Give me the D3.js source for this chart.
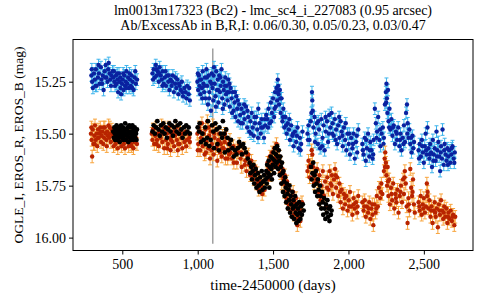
<!DOCTYPE html>
<html>
<head>
<meta charset="utf-8">
<script src="https://cdn.jsdelivr.net/npm/d3@7"></script>
<style>
  html, body { margin: 0; padding: 0; background: #fff; }
  svg { display: block; }
  svg text { font-family: "Liberation Serif", "DejaVu Serif", serif; }
</style>
</head>
<body>
<svg id="chart" width="480" height="300"></svg>
<script>
const titleLines = [
  "lm0013m17323 (Bc2) - lmc_sc4_i_227083 (0.95 arcsec)",
  "Ab/ExcessAb in B,R,I: 0.06/0.30, 0.05/0.23, 0.03/0.47"
];
const xLabel = "time-2450000 (days)";
const yLabel = "OGLE_I, EROS_R, EROS_B (mag)";
const xTicks = [500, 1000, 1500, 2000, 2500];
const yTicks = [15.25, 15.5, 15.75, 16.0];
const markerTime = 1100;
const markerMags = [15.09, 16.03];
const errB = 0.028;
const errR = 0.03;

// EROS_B : [time, mag]
const erosB = [
[295,15.22],[300,15.25],[305,15.28],[312,15.21],[318,15.24],[325,15.19],[330,15.27],[338,15.23],[345,15.21],[350,15.26],[358,15.18],[362,15.24],[370,15.22],[376,15.29],[383,15.2],[390,15.17],[395,15.23],[402,15.25],[410,15.16],[415,15.21],[420,15.24],[428,15.22],[435,15.2],[440,15.23],[447,15.25],[452,15.27],[458,15.22],[463,15.26],[468,15.24],[472,15.3],[478,15.21],[483,15.25],[488,15.28],[492,15.31],[498,15.26],[503,15.24],[508,15.29],[513,15.22],[518,15.27],[523,15.25],[528,15.2],[533,15.26],[538,15.23],[545,15.28],[550,15.24],[556,15.27],[562,15.22],[568,15.25],[575,15.29],[582,15.23],[590,15.26],[598,15.24],
[298,15.19],[322,15.27],[342,15.17],[366,15.26],[386,15.23],[406,15.19],[425,15.27],[444,15.2],[466,15.21],[486,15.23],[506,15.21],[526,15.28],[548,15.21],[566,15.28],[586,15.2],
[700,15.21],[708,15.19],[715,15.23],[722,15.17],[728,15.22],[735,15.2],[742,15.25],[748,15.18],[755,15.22],[762,15.24],[768,15.2],[775,15.26],[782,15.23],[790,15.27],[797,15.22],[805,15.25],[812,15.29],[820,15.24],[827,15.27],[835,15.22],[842,15.3],[850,15.26],[858,15.28],[865,15.24],[872,15.31],[880,15.27],[888,15.29],[895,15.25],[903,15.32],[912,15.28],[920,15.3],[930,15.27],[940,15.31],[948,15.34],
[704,15.24],[725,15.19],[745,15.21],[766,15.27],[786,15.2],[808,15.22],[830,15.25],[853,15.23],[876,15.26],[898,15.3],[925,15.33],[944,15.28],
[998,15.25],[1003,15.29],[1008,15.22],[1012,15.27],[1018,15.31],[1023,15.24],[1028,15.28],[1033,15.2],[1038,15.26],[1043,15.3],[1048,15.23],[1053,15.33],[1058,15.19],[1063,15.27],[1068,15.36],[1073,15.22],[1078,15.3],[1083,15.25],[1088,15.39],[1093,15.21],[1098,15.28],[1103,15.34],[1108,15.18],[1113,15.26],[1118,15.32],[1123,15.2],[1128,15.29],[1133,15.24],[1138,15.35],[1143,15.22],[1148,15.3],[1153,15.27],[1158,15.19],[1163,15.33],[1168,15.25],[1173,15.29],[1178,15.36],[1183,15.23],[1188,15.31],[1193,15.27],[1198,15.34],[1203,15.24],[1208,15.3],[1213,15.37],[1218,15.28],[1225,15.33],[1232,15.3],[1238,15.39],[1244,15.35],[1250,15.42],[1256,15.32],[1262,15.38],[1268,15.44],[1275,15.36],[1282,15.41],[1290,15.38],[1298,15.45],[1305,15.4],[1312,15.43],[1320,15.37],[1328,15.47],[1335,15.42],[1342,15.49],[1350,15.44],[1358,15.4],[1365,15.47],[1372,15.51],[1380,15.45],[1388,15.42],[1395,15.48],[1402,15.38],[1410,15.45],[1418,15.5],[1425,15.43],[1432,15.47],[1440,15.52],[1448,15.46],[1455,15.41],
[1001,15.21],[1016,15.24],[1031,15.33],[1046,15.27],[1061,15.23],[1076,15.33],[1091,15.26],[1106,15.22],[1121,15.37],[1136,15.29],[1151,15.23],[1166,15.38],[1181,15.27],[1196,15.3],[1211,15.26],[1228,15.4],[1247,15.3],[1265,15.34],[1286,15.45],[1308,15.36],[1330,15.39],[1354,15.5],[1376,15.42],[1400,15.52],[1422,15.47],[1445,15.43],
[1462,15.43],[1470,15.38],[1478,15.45],[1485,15.35],[1492,15.4],[1500,15.33],[1507,15.42],[1513,15.3],[1518,15.37],[1523,15.28],[1527,15.34],[1531,15.24],[1534,15.27],[1537,15.31],[1540,15.36],[1545,15.29],[1550,15.4],[1556,15.33],[1562,15.44],[1568,15.38],[1575,15.47],[1582,15.42],[1590,15.5],[1597,15.45],[1605,15.48],[1612,15.53],[1620,15.46],[1628,15.51],[1636,15.56],[1645,15.49],[1653,15.54],[1662,15.47],[1670,15.57],[1678,15.52],[1686,15.55],[1695,15.49],
[1466,15.47],[1488,15.44],[1510,15.38],[1530,15.3],[1548,15.33],[1566,15.42],[1586,15.46],[1608,15.43],[1632,15.5],[1658,15.51],[1682,15.58],
[1728,15.5],[1735,15.46],[1742,15.53],[1750,15.44],[1758,15.3],[1760,15.34],[1763,15.39],[1768,15.47],[1775,15.42],[1782,15.5],[1790,15.45],[1797,15.55],[1805,15.48],[1812,15.57],[1820,15.43],[1828,15.52],[1835,15.46],[1842,15.58],[1850,15.49],[1858,15.44],[1865,15.54],[1872,15.41],[1880,15.47],[1888,15.4],[1895,15.45],[1902,15.51],[1910,15.43],[1918,15.48],[1925,15.55],[1932,15.46],[1940,15.52],[1948,15.44],[1955,15.49],[1962,15.56],[1970,15.47],[1978,15.53],[1986,15.58],[1994,15.5],[2002,15.55],[2010,15.6],[2018,15.52],[2026,15.57],[2034,15.5],[2042,15.62],[2050,15.54],[2058,15.59],[2065,15.48],
[1732,15.53],[1754,15.4],[1778,15.54],[1800,15.44],[1825,15.56],[1848,15.42],[1870,15.5],[1893,15.5],[1915,15.53],[1938,15.42],[1960,15.51],[1982,15.45],[2005,15.5],[2030,15.55],[2055,15.51],
[2092,15.55],[2100,15.6],[2108,15.52],[2115,15.63],[2122,15.57],[2130,15.5],[2138,15.61],[2145,15.54],[2152,15.58],[2160,15.62],[2167,15.53],[2175,15.38],[2182,15.45],[2190,15.49],[2197,15.42],[2205,15.53],[2212,15.56],[2220,15.5],[2228,15.47],[2235,15.52],[2242,15.36],[2248,15.3],[2252,15.26],[2255,15.33],[2258,15.4],[2262,15.29],[2266,15.44],[2272,15.38],[2278,15.48],[2285,15.43],[2292,15.51],[2300,15.46],[2308,15.55],[2315,15.49],[2322,15.53],[2330,15.47],[2338,15.56],[2345,15.5],[2352,15.58],[2360,15.52],[2368,15.46],[2375,15.54],[2382,15.4],[2388,15.36],[2393,15.45],[2398,15.52],[2404,15.48],[2410,15.55],[2418,15.59],[2425,15.51],[2435,15.54],
[2096,15.58],[2118,15.53],[2142,15.58],[2164,15.6],[2186,15.52],[2210,15.48],[2232,15.55],[2250,15.35],[2270,15.47],[2295,15.47],[2320,15.5],[2342,15.53],[2365,15.55],[2390,15.5],[2415,15.52],[2430,15.57],
[2465,15.58],[2472,15.55],[2480,15.61],[2487,15.53],[2494,15.59],[2500,15.64],[2506,15.56],[2512,15.5],[2518,15.6],[2524,15.47],[2530,15.57],[2536,15.62],[2542,15.55],[2548,15.59],[2554,15.66],[2560,15.53],[2566,15.6],[2572,15.57],[2578,15.63],[2584,15.49],[2590,15.58],[2596,15.54],[2602,15.61],[2608,15.68],[2614,15.56],[2620,15.62],[2624,15.48],[2632,15.65],[2638,15.55],[2644,15.6],[2650,15.63],[2656,15.57],[2662,15.61],[2668,15.58],[2675,15.64],[2682,15.6],[2690,15.56],[2698,15.62],[2705,15.59],
[2468,15.62],[2490,15.56],[2515,15.58],[2540,15.6],[2563,15.63],[2587,15.61],[2612,15.59],[2635,15.58],[2660,15.65],[2685,15.57],[2702,15.64]
];

// EROS_R : [time, mag]
const erosR = [
[292,15.5],[297,15.53],[300,15.61],[304,15.48],[309,15.55],[314,15.51],[319,15.46],[324,15.53],[329,15.5],[334,15.56],[339,15.48],[344,15.52],[349,15.5],[354,15.47],[359,15.54],[364,15.51],[369,15.49],[374,15.55],[379,15.52],[384,15.47],[389,15.5],[394,15.53],[399,15.49],[404,15.51],[409,15.46],[414,15.52],[419,15.5],[424,15.54],[430,15.48],[436,15.51],[442,15.56],[448,15.53],[455,15.55],[462,15.52],[470,15.57],[478,15.54],[486,15.51],[494,15.56],[502,15.53],[510,15.55],[518,15.57],[526,15.52],[534,15.54],[542,15.56],[550,15.53],[558,15.55],[566,15.51],[574,15.57],[582,15.54],[590,15.52],[597,15.55],
[295,15.47],[317,15.55],[337,15.52],[357,15.49],[377,15.47],[397,15.56],[417,15.47],[440,15.5],[466,15.5],[490,15.53],[514,15.51],[538,15.51],[562,15.56],[586,15.5],
[695,15.5],[700,15.53],[706,15.48],[712,15.55],[718,15.51],[724,15.47],[730,15.53],[736,15.5],[742,15.56],[748,15.49],[754,15.52],[760,15.46],[766,15.54],[772,15.5],[778,15.57],[784,15.48],[790,15.53],[796,15.5],[802,15.55],[808,15.47],[814,15.52],[820,15.58],[826,15.5],[832,15.54],[838,15.49],[844,15.56],[850,15.51],[856,15.47],[862,15.53],[868,15.58],[874,15.5],[880,15.55],[886,15.48],[892,15.52],[898,15.57],[904,15.5],[912,15.54],[920,15.49],[928,15.53],[936,15.5],[944,15.52],
[703,15.48],[727,15.55],[751,15.5],[775,15.47],[799,15.57],[823,15.53],[847,15.49],[871,15.55],[895,15.5],[924,15.56],[948,15.54],
[998,15.5],[1004,15.55],[1010,15.47],[1016,15.58],[1022,15.52],[1028,15.45],[1034,15.56],[1040,15.5],[1046,15.6],[1052,15.48],[1058,15.54],[1064,15.44],[1070,15.57],[1076,15.51],[1082,15.62],[1088,15.49],[1094,15.55],[1100,15.46],[1106,15.6],[1112,15.52],[1118,15.57],[1124,15.48],[1130,15.63],[1136,15.53],[1142,15.5],[1148,15.59],[1154,15.55],[1160,15.61],[1166,15.51],[1172,15.57],[1178,15.54],[1184,15.62],[1190,15.52],[1196,15.58],[1202,15.55],[1208,15.6],[1214,15.53],[1220,15.57],[1228,15.62],[1236,15.56],[1244,15.6],[1252,15.58],[1260,15.64],[1268,15.59],[1276,15.55],[1284,15.62],[1292,15.66],[1300,15.6],[1308,15.57],[1316,15.63],[1324,15.68],[1332,15.61],[1340,15.65],[1348,15.7],[1356,15.63],[1364,15.67],[1372,15.72],[1380,15.66],[1388,15.74],[1396,15.69],[1404,15.77],[1412,15.71],[1420,15.75],[1428,15.79],[1436,15.73],[1444,15.77],
[1001,15.58],[1019,15.49],[1037,15.53],[1055,15.59],[1073,15.47],[1091,15.58],[1109,15.5],[1127,15.56],[1145,15.54],[1163,15.57],[1181,15.5],[1199,15.62],[1217,15.59],[1240,15.64],[1264,15.57],[1288,15.59],[1312,15.65],[1336,15.6],[1360,15.7],[1384,15.68],[1408,15.73],[1432,15.76],
[1458,15.69],[1463,15.64],[1468,15.72],[1473,15.67],[1478,15.61],[1483,15.7],[1488,15.65],[1493,15.59],[1498,15.66],[1503,15.62],[1508,15.57],[1513,15.64],[1518,15.6],[1523,15.55],[1528,15.63],[1533,15.58],[1538,15.66],[1543,15.61],[1548,15.69],[1553,15.64],[1558,15.74],[1563,15.67],[1568,15.71],[1573,15.78],[1578,15.7],[1583,15.75],[1588,15.81],[1593,15.73],[1598,15.79],[1603,15.84],[1608,15.77],[1613,15.82],[1618,15.87],[1623,15.8],[1628,15.85],[1633,15.78],[1638,15.89],[1643,15.83],[1648,15.87],[1653,15.81],[1658,15.91],[1661,15.94],[1666,15.86],[1671,15.89],[1676,15.84],[1681,15.92],[1686,15.87],[1692,15.83],
[1470,15.66],[1495,15.63],[1520,15.62],[1545,15.65],[1570,15.72],[1595,15.77],[1620,15.83],[1645,15.86],[1670,15.91],
[1728,15.68],[1735,15.63],[1742,15.71],[1750,15.65],[1756,15.58],[1760,15.6],[1765,15.66],[1772,15.74],[1778,15.69],[1785,15.72],[1792,15.67],[1800,15.78],[1808,15.7],[1815,15.82],[1822,15.75],[1830,15.68],[1838,15.8],[1845,15.73],[1852,15.85],[1860,15.71],[1868,15.77],[1875,15.68],[1882,15.74],[1890,15.7],[1897,15.79],[1904,15.72],[1911,15.67],[1918,15.76],[1925,15.71],[1932,15.8],[1940,15.74],[1948,15.83],[1955,15.77],[1963,15.86],[1970,15.79],[1978,15.84],[1986,15.8],[1994,15.87],[2002,15.82],[2010,15.78],[2018,15.85],[2026,15.89],[2034,15.81],[2042,15.86],[2050,15.83],[2058,15.88],[2065,15.8],
[1738,15.66],[1768,15.7],[1798,15.73],[1828,15.79],[1858,15.76],[1888,15.75],[1915,15.7],[1945,15.78],[1975,15.81],[2005,15.85],[2035,15.84],[2060,15.85],
[2092,15.83],[2100,15.87],[2108,15.82],[2115,15.9],[2122,15.85],[2130,15.88],[2138,15.83],[2145,15.91],[2152,15.86],[2160,15.89],[2165,15.94],[2172,15.84],[2180,15.88],[2188,15.8],[2195,15.85],[2202,15.76],[2210,15.81],[2218,15.74],[2225,15.79],[2235,15.68],[2240,15.62],[2244,15.59],[2248,15.64],[2252,15.7],[2256,15.75],[2260,15.66],[2265,15.8],[2270,15.72],[2275,15.84],[2282,15.76],[2290,15.82],[2297,15.74],[2304,15.86],[2311,15.79],[2318,15.83],[2325,15.77],[2332,15.88],[2340,15.8],[2348,15.75],[2355,15.83],[2362,15.72],[2368,15.79],[2374,15.68],[2380,15.74],[2386,15.85],[2392,15.93],[2398,15.81],[2404,15.87],[2410,15.67],[2416,15.76],[2422,15.8],[2428,15.72],[2434,15.84],[2440,15.88],
[2105,15.85],[2135,15.86],[2158,15.84],[2185,15.86],[2215,15.78],[2242,15.66],[2262,15.73],[2286,15.79],[2315,15.81],[2345,15.78],[2372,15.71],[2400,15.84],[2425,15.78],
[2465,15.83],[2472,15.87],[2479,15.8],[2486,15.89],[2493,15.84],[2500,15.81],[2507,15.88],[2514,15.85],[2520,15.74],[2525,15.78],[2530,15.86],[2537,15.82],[2544,15.9],[2551,15.85],[2558,15.93],[2565,15.87],[2572,15.83],[2579,15.9],[2586,15.86],[2593,15.95],[2600,15.84],[2607,15.89],[2614,15.82],[2621,15.87],[2628,15.91],[2635,15.85],[2642,15.9],[2649,15.86],[2656,15.93],[2663,15.88],[2670,15.91],[2678,15.87],[2686,15.92],[2694,15.89],[2702,15.94],[2708,15.9],
[2470,15.85],[2496,15.86],[2522,15.8],[2548,15.87],[2575,15.88],[2603,15.87],[2632,15.88],[2660,15.9],[2690,15.9]
];

// OGLE_I : [time, mag]
const ogleI = [
[440,15.49],[444,15.52],[447,15.47],[450,15.5],[453,15.53],[456,15.48],[459,15.51],[462,15.46],[465,15.5],[468,15.53],[471,15.49],[474,15.47],[477,15.52],[480,15.5],[483,15.54],[486,15.48],[489,15.51],[492,15.46],[495,15.49],[498,15.52],[501,15.5],[504,15.47],[507,15.53],[510,15.49],[513,15.51],[516,15.48],[519,15.45],[522,15.5],[525,15.53],[528,15.48],[531,15.51],[534,15.47],[537,15.5],[540,15.54],[543,15.49],[546,15.46],[549,15.52],[552,15.5],[555,15.47],[558,15.53],[561,15.49],[564,15.51],[567,15.46],[570,15.5],[573,15.53],[576,15.48],[579,15.51],[582,15.47],[585,15.52],[588,15.49],[591,15.5],[594,15.53],[597,15.48],
[700,15.49],[708,15.46],[716,15.5],[724,15.47],[732,15.44],[740,15.48],[748,15.51],[756,15.46],[764,15.49],[772,15.45],[780,15.5],[788,15.47],[796,15.52],[804,15.48],[812,15.45],[820,15.49],[828,15.46],[836,15.51],[844,15.47],[852,15.44],[860,15.49],[868,15.46],[876,15.5],[884,15.45],[892,15.48],[900,15.52],[908,15.47],[916,15.5],[924,15.46],[932,15.49],[940,15.47],[948,15.5],
[1000,15.47],[1009,15.49],[1013,15.45],[1022,15.54],[1031,15.5],[1040,15.53],[1050,15.47],[1054,15.55],[1063,15.52],[1068,15.44],[1077,15.56],[1086,15.53],[1095,15.46],[1104,15.49],[1108,15.57],[1117,15.45],[1126,15.48],[1131,15.55],[1140,15.58],[1144,15.47],[1153,15.5],[1162,15.52],[1167,15.44],[1176,15.5],[1180,15.59],[1189,15.48],[1198,15.52],[1203,15.58],[1212,15.55],[1221,15.53],[1230,15.57],[1239,15.61],[1248,15.58],[1257,15.6],[1266,15.57],[1275,15.54],[1284,15.56],[1293,15.6],[1302,15.55],[1311,15.57],[1320,15.59],[1332,15.62],
[1345,15.64],[1350,15.69],[1355,15.66],[1360,15.72],[1365,15.68],[1370,15.65],[1375,15.74],[1380,15.7],[1385,15.67],[1390,15.76],[1395,15.72],[1400,15.69],[1405,15.75],[1410,15.78],[1415,15.71],[1420,15.74],[1425,15.68],[1430,15.77],[1435,15.73],[1440,15.7],[1445,15.76],[1450,15.72],
[1455,15.68],[1458,15.74],[1461,15.65],[1465,15.71],[1468,15.69],[1471,15.63],[1475,15.76],[1478,15.66],[1482,15.7],[1485,15.61],[1489,15.67],[1492,15.72],[1496,15.62],[1499,15.65],[1503,15.59],[1506,15.69],[1510,15.63],[1513,15.57],[1517,15.66],[1520,15.6],[1524,15.64],[1527,15.56],[1531,15.61],[1534,15.67],[1538,15.58],[1541,15.63],[1545,15.7],[1548,15.61],[1552,15.66],[1555,15.74],[1559,15.64],[1562,15.69],[1566,15.78],[1569,15.68],[1573,15.73],[1576,15.8],[1580,15.71],[1584,15.76],[1587,15.83],[1591,15.74],[1595,15.79],[1598,15.86],[1602,15.77],[1606,15.82],[1609,15.75],[1613,15.88],[1617,15.8],[1620,15.84],[1624,15.9],[1628,15.78],[1631,15.86],[1635,15.82],[1639,15.91],[1642,15.85],[1646,15.8],[1650,15.88],[1654,15.93],[1657,15.84],[1661,15.89],[1665,15.86],[1669,15.92],[1673,15.83],[1677,15.88],[1681,15.91],[1686,15.85],[1691,15.89],[1697,15.84],[1703,15.87],
[1752,15.66],[1756,15.72],[1761,15.69],[1766,15.64],[1770,15.75],[1775,15.7],[1779,15.78],[1784,15.68],[1788,15.74],[1793,15.8],[1797,15.72],[1802,15.77],[1806,15.84],[1811,15.75],[1815,15.8],[1820,15.86],[1824,15.78],[1829,15.83],[1833,15.89],[1838,15.81],[1842,15.86],[1847,15.91],[1851,15.84],[1856,15.88],[1860,15.82],[1865,15.9],[1869,15.86],[1874,15.92],[1878,15.85],[1883,15.89],[1888,15.87]
];

const W = 480, H = 300;
const margin = { top: 39.5, right: 7, bottom: 49.5, left: 73 };
const FONT = "'Liberation Serif', 'DejaVu Serif', serif";
const svg = d3.select("#chart");

const x = d3.scaleLinear().domain([173, 2826]).range([margin.left, W - margin.right]);
const y = d3.scaleLinear().domain([15.047, 16.062]).range([margin.top, H - margin.bottom]);

const g = svg.append("g");

// vertical marker line
g.append("line")
  .attr("x1", x(markerTime)).attr("x2", x(markerTime))
  .attr("y1", y(markerMags[0])).attr("y2", y(markerMags[1]))
  .attr("stroke", "#a0a0a0").attr("stroke-width", 1.5);

function drawSeries(data, err, barColor, dotColor) {
  const bars = g.append("g").attr("stroke", barColor).attr("stroke-width", 1).attr("fill", "none");
  bars.selectAll("path").data(data).join("path")
    .attr("d", d => {
      const cx = x(d[0]), y1 = y(d[1] - err), y2 = y(d[1] + err);
      return `M${cx},${y1}V${y2}M${cx-2},${y1}H${cx+2}M${cx-2},${y2}H${cx+2}`;
    });
  return g.append("g").selectAll("circle").data(data).join("circle")
    .attr("cx", d => x(d[0])).attr("cy", d => y(d[1])).attr("r", 2.2)
    .attr("fill", dotColor);
}

drawSeries(erosB, errB, "#3cb4ec", "#0a22a0");
drawSeries(erosR, errR, "#f8a43c", "#b82400");
g.append("g").selectAll("circle").data(ogleI).join("circle")
  .attr("cx", d => x(d[0])).attr("cy", d => y(d[1])).attr("r", 2.4)
  .attr("fill", "#000");

// frame
svg.append("rect")
  .attr("x", margin.left).attr("y", margin.top)
  .attr("width", W - margin.left - margin.right)
  .attr("height", H - margin.top - margin.bottom)
  .attr("fill", "none").attr("stroke", "#000").attr("stroke-width", 1);

const fmtX = d3.format(",");
const xAxis = svg.append("g")
  .attr("transform", `translate(0,${H - margin.bottom})`)
  .call(d3.axisBottom(x).tickValues(xTicks).tickFormat(fmtX).tickSize(4).tickSizeOuter(0));
const yAxis = svg.append("g")
  .attr("transform", `translate(${margin.left},0)`)
  .call(d3.axisLeft(y).tickValues(yTicks).tickFormat(d3.format(".2f")).tickSize(4).tickSizeOuter(0));
[xAxis, yAxis].forEach(a => {
  a.attr("font-family", FONT).attr("font-size", 14);
  a.select(".domain").remove();
  a.selectAll("text").attr("font-family", FONT).attr("font-size", 14).attr("fill", "#000");
});
xAxis.selectAll("text").attr("dy", "0.85em");

svg.append("text")
  .attr("x", (margin.left + W - margin.right) / 2).attr("y", 289.5)
  .attr("text-anchor", "middle").attr("font-size", 15).attr("font-family", FONT)
  .text(xLabel);

svg.append("text")
  .attr("transform", `translate(23,${(margin.top + H - margin.bottom) / 2}) rotate(-90)`)
  .attr("text-anchor", "middle").attr("font-size", 13.5).attr("font-family", FONT)
  .text(yLabel);

titleLines.forEach((t, i) => {
  svg.append("text")
    .attr("x", (margin.left + W - margin.right) / 2).attr("y", 15 + i * 14.5)
    .attr("text-anchor", "middle").attr("font-size", 14).attr("font-family", FONT)
    .text(t);
});
</script>
</body>
</html>
